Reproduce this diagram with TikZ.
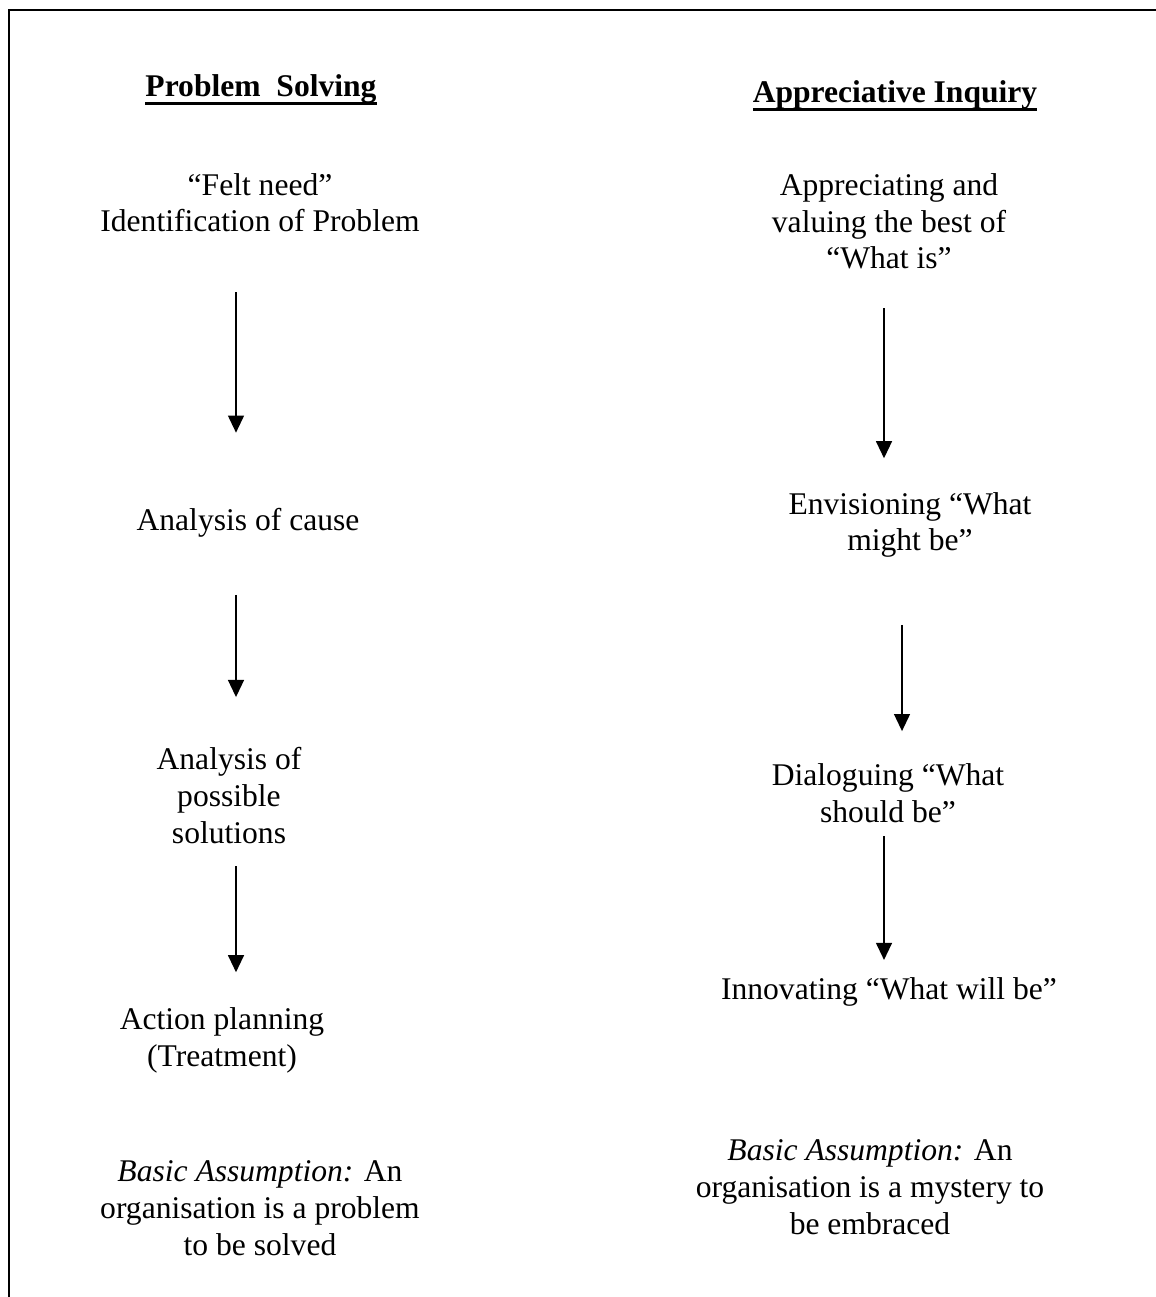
\documentclass[tikz,border=0pt]{standalone}
\usepackage{fontspec}
\setmainfont{Liberation Serif}
\usetikzlibrary{arrows.meta}

\begin{document}
\begin{tikzpicture}[
    x=0.38pt, y=-0.38pt,
    txt/.style={align=center, inner sep=0pt, outer sep=0pt, anchor=base, font=\fontsize{12}{14}\selectfont},
    head/.style={txt, font=\fontsize{12}{14}\selectfont\bfseries},
    uline/.style={line width=1.3pt},
    arrow/.style={-{Triangle[width=6pt, length=6.5pt]}, line width=0.75pt}
]
\useasboundingbox (0,0) rectangle (1155,1297);
% Frame (open at right and bottom)
\draw[line width=0.7pt] (9,1310) -- (9,10) -- (1170,10);

% Problem solving (nodes placed at the baseline of their last line)
\node[head] (tps) at (261,97) {Problem\ \ Solving};
\node[txt] (felt) at (260,232) {“Felt need”\\Identification of Problem};
\node[txt] (cause) at (248,531) {Analysis of cause};
\node[txt] (sols) at (229,843) {Analysis of\\possible\\solutions};
\node[txt] (plan) at (222,1066) {Action planning\\(Treatment)};
\node[txt] (basl) at (260,1255) {\textit{Basic Assumption:} An\\organisation is a problem\\to be solved};

% Appreciative inquiry
\node[head] (tai) at (895,103) {Appreciative Inquiry};
\node[txt] (best) at (889,269) {Appreciating and\\valuing the best of\\“What is”};
\node[txt] (envis) at (910,551) {Envisioning “What\\might be”};
\node[txt] (dial) at (888,822) {Dialoguing “What\\should be”};
\node[txt] (innov) at (889,999) {Innovating “What will be”};
\node[txt] (basr) at (870,1234) {\textit{Basic Assumption:} An\\organisation is a mystery to\\be embraced};

% Underlines
\draw[uline] ([yshift=-2.4pt]tps.base west) -- ([yshift=-2.4pt]tps.base east);
\draw[uline] ([yshift=-2.4pt]tai.base west) -- ([yshift=-2.4pt]tai.base east);

% Arrows
\coordinate (lx) at (236,0);
\coordinate (rx) at (884,0);
\coordinate (rx2) at (902,0);
\draw[arrow, shorten <=22.8pt, shorten >=28.9pt] (felt.south -| lx) -- (cause.north -| lx);
\draw[arrow, shorten <=21.7pt, shorten >=19pt] (cause.south -| lx) -- (sols.north -| lx);
\draw[arrow, shorten <=8.7pt, shorten >=13.3pt] (sols.south -| lx) -- (plan.north -| lx);
\draw[arrow, shorten <=14.8pt, shorten >=12.9pt] (best.south -| rx) -- (envis.north -| rx);
\draw[arrow, shorten <=25.5pt, shorten >=12.2pt] (envis.south -| rx2) -- (dial.north -| rx2);
\draw[arrow, shorten <=5.3pt, shorten >=6.5pt] (dial.south -| rx) -- (innov.north -| rx);
\end{tikzpicture}
\end{document}
